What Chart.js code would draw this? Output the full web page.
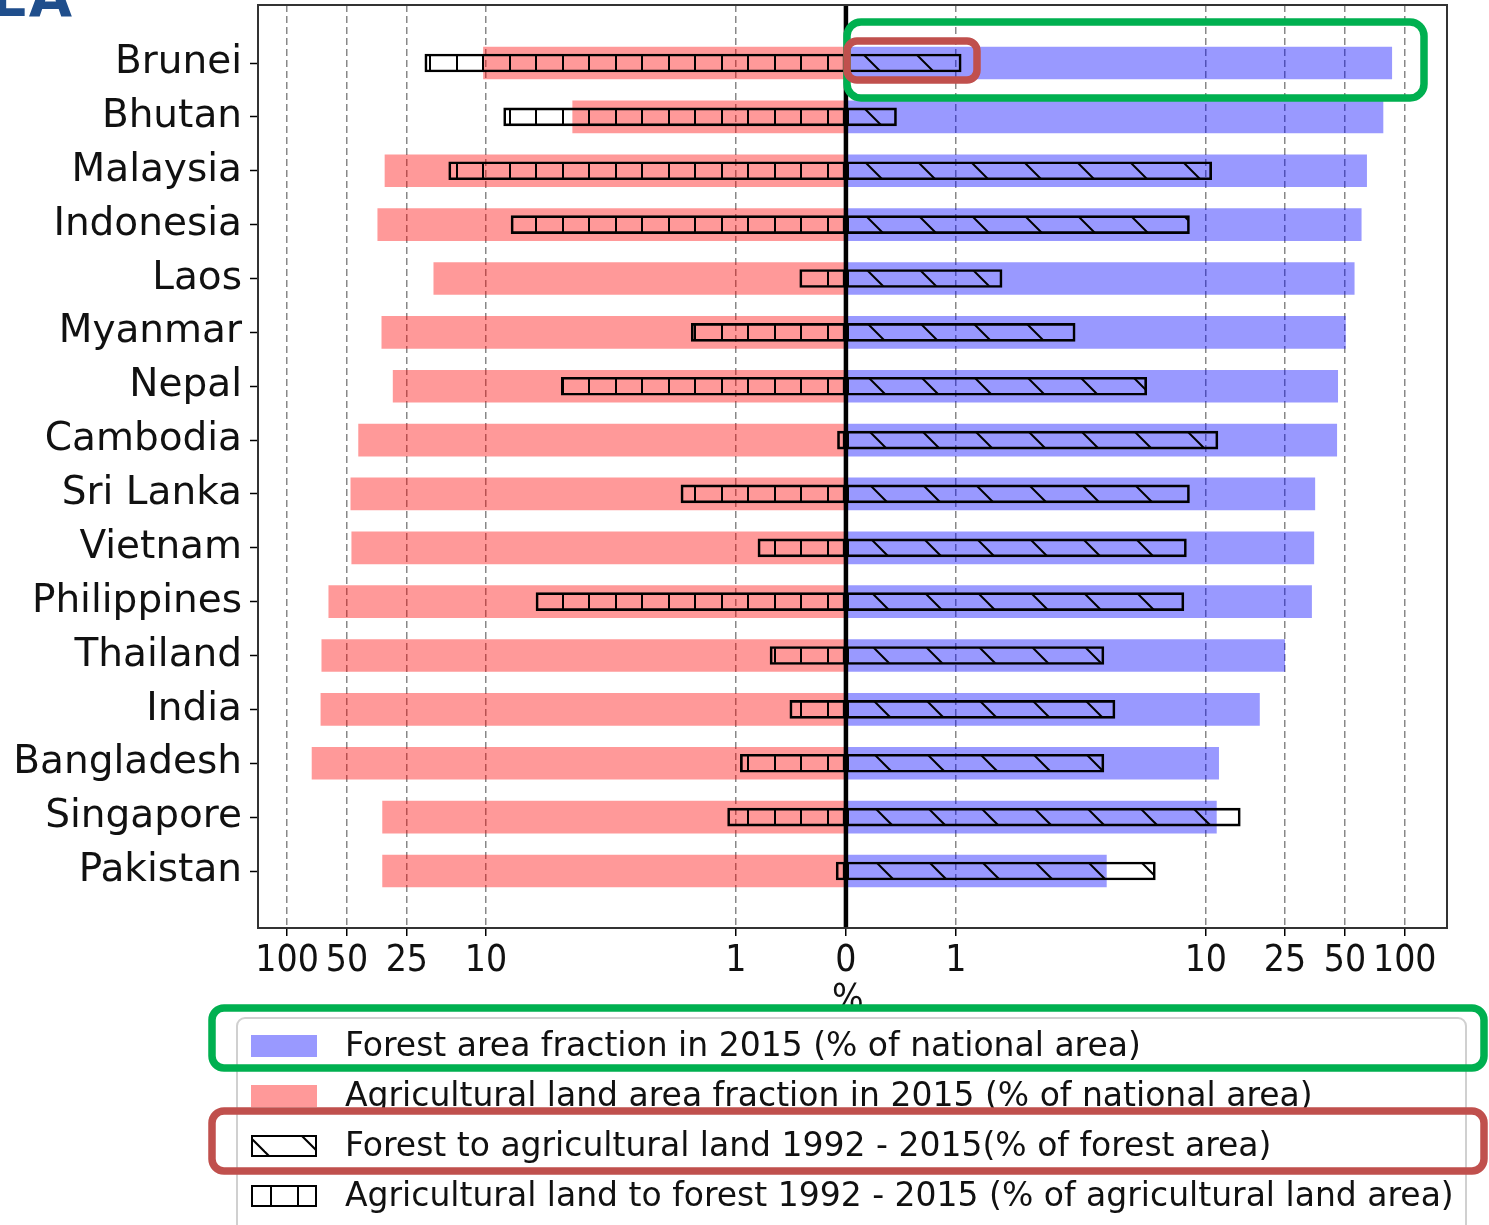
<!DOCTYPE html>
<html>
<head>
<meta charset="utf-8">
<script src="https://cdn.jsdelivr.net/npm/chart.js@4/dist/chart.umd.min.js"></script>
<style>
  body { margin: 0; background: #fff; }
  #wrap { width: 1489px; height: 1225px; position: relative; }
</style>
</head>
<body>
<div id="wrap"><canvas id="myChart" width="1489" height="1225"></canvas></div>
<script>
// values (% units)
const countries = ['Brunei', 'Bhutan', 'Malaysia', 'Indonesia', 'Laos', 'Myanmar', 'Nepal', 'Cambodia',
  'Sri Lanka', 'Vietnam', 'Philippines', 'Thailand', 'India', 'Bangladesh', 'Singapore', 'Pakistan'];
const forestArea = [86, 77.7, 64.3, 60.4, 55.7, 50.3, 46, 45.5, 35.3, 34.9, 34, 24.9, 18.6, 11.6, 11.3, 4.0];
const agriArea = [10.3, 4.5, 32.2, 35, 18.3, 33.4, 29.3, 43.7, 47.8, 47.3, 61.7, 66.9, 67.6, 74.9, 33.1, 33.1];
const forestToAgri = [1.05, 0.46, 10.7, 8.6, 1.53, 3.0, 5.8, 11.5, 8.6, 8.36, 8.17, 3.91, 4.33, 3.91, 14.9, 6.28];
const agriToForest = [20.3, 8.5, 15.4, 7.94, 0.42, 1.51, 5.0, 0.077, 1.66, 0.8, 6.31, 0.69, 0.51, 0.96, 1.08, 0.089];
const tickValues = [-100, -50, -25, -10, -1, 0, 1, 10, 25, 50, 100];
const legendLabels = [
  'Forest area fraction in 2015 (% of national area)',
  'Agricultural land area fraction in 2015 (% of national area)',
  'Forest to agricultural land 1992 - 2015(% of forest area)',
  'Agricultural land to forest 1992 - 2015 (% of agricultural land area)'
];

const condFont = "'DejaVu Sans Condensed', 'DejaVu Sans', sans-serif";
const normFont = "'DejaVu Sans', sans-serif";

// symmetric log-like transform used by the original x axis
function tf(v) {
  const a = Math.abs(v), s = v < 0 ? -1 : 1;
  if (a <= 1) return s * 110 * a;
  if (a <= 10) return s * (110 + 250 * Math.log10(a));
  return s * (360 + 199 * Math.log10(a / 10));
}
function itf(t) {
  const a = Math.abs(t), s = t < 0 ? -1 : 1;
  if (a <= 110) return s * a / 110;
  if (a <= 360) return s * Math.pow(10, (a - 110) / 250);
  return s * 10 * Math.pow(10, (a - 360) / 199);
}

class SymLogScale extends Chart.LinearScale {
  static id = 'symlog';
  static defaults = Chart.LinearScale.defaults;
  getPixelForValue(value) {
    const a = tf(this.min), b = tf(this.max);
    return this.getPixelForDecimal((tf(value) - a) / (b - a));
  }
  getValueForPixel(pixel) {
    const a = tf(this.min), b = tf(this.max);
    return itf(a + this.getDecimalForPixel(pixel) * (b - a));
  }
}
Chart.register(SymLogScale);

const ctx = document.getElementById('myChart').getContext('2d');

function diagPattern() {
  const c = document.createElement('canvas');
  c.width = 53; c.height = 53;
  const g = c.getContext('2d');
  g.strokeStyle = '#000'; g.lineWidth = 2;
  for (let k = -1; k <= 1; k++) {
    const off = 14 + 53 * k;
    g.beginPath(); g.moveTo(off - 3, -3); g.lineTo(off + 56, 56); g.stroke();
  }
  return ctx.createPattern(c, 'repeat');
}
function vertPattern() {
  const c = document.createElement('canvas');
  c.width = 53; c.height = 8;
  const g = c.getContext('2d');
  g.fillStyle = '#000';
  g.fillRect(5, 0, 2, 8);
  g.fillRect(32, 0, 2, 8);
  return ctx.createPattern(c, 'repeat');
}
const hatchDiag = diagPattern();
const hatchVert = vertPattern();

const blue = 'rgba(0,0,255,0.4)';
const red = 'rgba(255,0,0,0.4)';

const decor = {
  id: 'decor',
  afterDatasetsDraw(chart) {
    const c = chart.ctx, a = chart.chartArea;
    const x0 = chart.scales.x.getPixelForValue(0);
    c.save();
    c.strokeStyle = '#000'; c.lineWidth = 4.5;
    c.beginPath(); c.moveTo(x0, a.top); c.lineTo(x0, a.bottom); c.stroke();
    c.strokeStyle = '#333'; c.lineWidth = 2;
    c.strokeRect(a.left, a.top, a.right - a.left, a.bottom - a.top);
    c.restore();
  },
  afterDraw(chart) {
    const c = chart.ctx;
    const x0 = chart.scales.x.getPixelForValue(0);
    c.save();
    // axis title
    c.fillStyle = '#111';
    c.font = '37px ' + condFont;
    c.textAlign = 'center'; c.textBaseline = 'top';
    c.fillText('%', x0 + 2, 982);

    // legend
    c.beginPath();
    c.roundRect(237, 1018, 1229, 230, 8);
    c.fillStyle = 'rgba(255,255,255,0.85)';
    c.fill();
    c.strokeStyle = '#d0d0d0'; c.lineWidth = 2; c.stroke();
    const fills = [blue, red, hatchDiag, hatchVert];
    c.font = '33px ' + normFont;
    c.textAlign = 'left'; c.textBaseline = 'middle';
    legendLabels.forEach((t, i) => {
      const yc = 1046 + i * 50;
      if (i >= 2) { c.fillStyle = '#fff'; c.fillRect(251, yc - 11, 66, 22); }
      c.fillStyle = fills[i];
      c.fillRect(251, yc - 11, 66, 22);
      if (i >= 2) { c.strokeStyle = '#000'; c.lineWidth = 2; c.strokeRect(252, yc - 10, 64, 20); }
      c.fillStyle = '#111';
      c.fillText(t, 345, yc + 1);
    });

    // highlight boxes
    c.lineWidth = 7.5;
    c.strokeStyle = '#00b050';
    c.beginPath(); c.roundRect(847, 22, 577, 76, 14); c.stroke();
    c.beginPath(); c.roundRect(212, 1008, 1272, 60, 12); c.stroke();
    c.strokeStyle = '#c0504d';
    c.beginPath(); c.roundRect(847, 41, 130, 39, 10); c.stroke();
    c.beginPath(); c.roundRect(212, 1111, 1272, 60, 12); c.stroke();

    // clipped panel letters
    c.fillStyle = '#1f4e8c';
    c.font = 'bold 56px ' + normFont;
    c.textAlign = 'right'; c.textBaseline = 'alphabetic';
    c.fillText('EA', 72, 16);
    c.restore();
  }
};

const toPts = (arr, sign) => arr.map((v, i) => ({ x: sign * v, y: i }));

new Chart(ctx, {
  type: 'bar',
  data: {
    datasets: [
      { label: legendLabels[2], data: toPts(forestToAgri, 1), backgroundColor: hatchDiag,
        borderColor: '#000', borderWidth: 2, borderSkipped: false, barThickness: 18, grouped: false, order: 0 },
      { label: legendLabels[3], data: toPts(agriToForest, -1), backgroundColor: hatchVert,
        borderColor: '#000', borderWidth: 2, borderSkipped: false, barThickness: 18, grouped: false, order: 0 },
      { label: legendLabels[0], data: toPts(forestArea, 1), backgroundColor: blue,
        borderWidth: 0, barThickness: 32, grouped: false, order: 1 },
      { label: legendLabels[1], data: toPts(agriArea, -1), backgroundColor: red,
        borderWidth: 0, barThickness: 32, grouped: false, order: 1 }
    ]
  },
  options: {
    indexAxis: 'y',
    responsive: false,
    animation: false,
    layout: { padding: { top: 5, right: 42, left: 0, bottom: 0 } },
    plugins: { legend: { display: false }, tooltip: { enabled: false } },
    scales: {
      x: {
        type: 'symlog',
        min: -140,
        max: 163,
        afterBuildTicks: s => { s.ticks = tickValues.map(v => ({ value: v })); },
        afterFit: s => { s.height = 297; s.paddingLeft = 0; s.paddingRight = 0; },
        ticks: {
          callback: v => String(Math.abs(v)),
          autoSkip: false, maxRotation: 0, padding: 3,
          color: '#111', font: { family: condFont, size: 37 }
        },
        grid: {
          color: c => (c.tick && c.tick.value === 0) ? 'rgba(0,0,0,0)' : '#888',
          lineWidth: 1.5,
          tickLength: 8, tickColor: '#000', tickWidth: 1.5, tickBorderDash: []
        },
        border: { display: false, dash: [7, 4] }
      },
      y: {
        type: 'linear',
        reverse: true,
        offset: false,
        min: -1.077,
        max: 16.058,
        afterBuildTicks: s => { s.ticks = countries.map((_, i) => ({ value: i })); },
        afterFit: s => { s.width = 258; s.paddingTop = 0; s.paddingBottom = 0; },
        ticks: {
          callback: v => countries[v],
          autoSkip: false, padding: 8,
          color: '#111', font: { family: normFont, size: 39 }
        },
        grid: { offset: false, drawOnChartArea: false, tickLength: 8, tickColor: '#000', tickWidth: 1.5 },
        border: { display: false }
      }
    }
  },
  plugins: [decor]
});
</script>
</body>
</html>
